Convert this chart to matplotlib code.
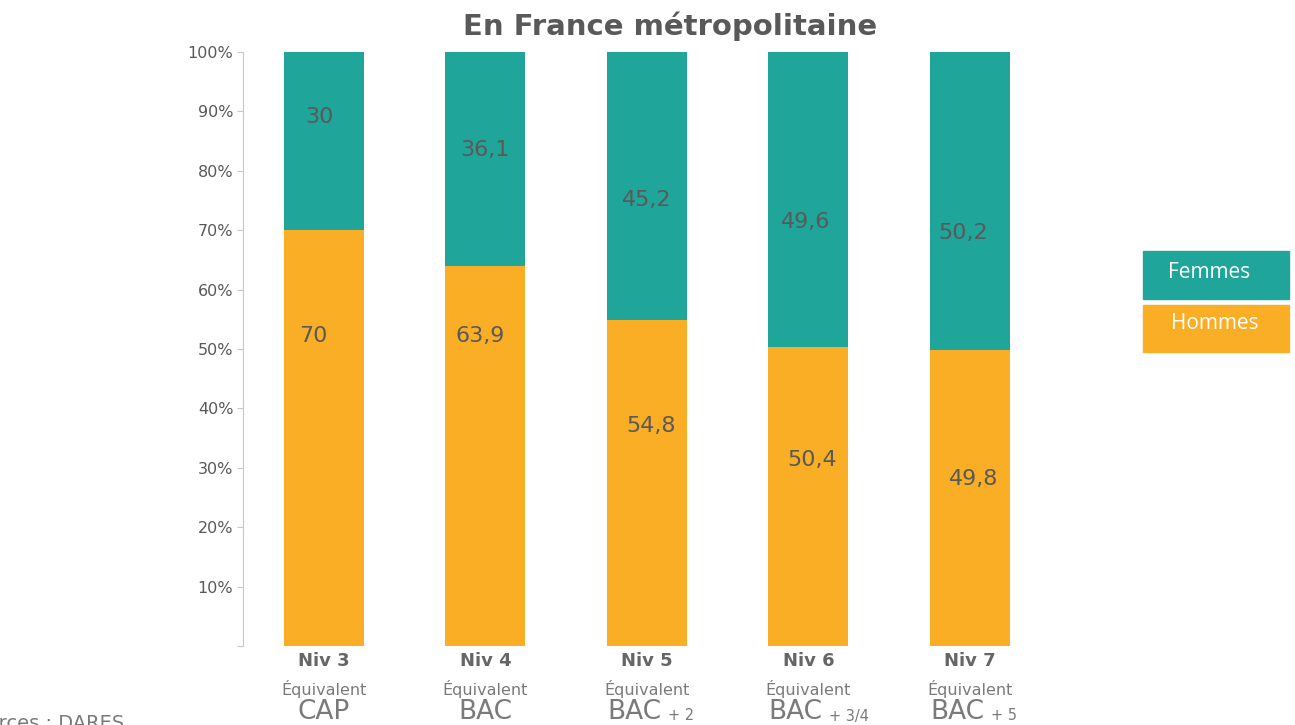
import matplotlib
matplotlib.use("Agg")
import matplotlib.pyplot as plt
from matplotlib.patches import Rectangle

niveaux = ["Niv 3", "Niv 4", "Niv 5", "Niv 6", "Niv 7"]
diplome = ["CAP", "BAC", "BAC", "BAC", "BAC"]
suffixe = ["", "", "+ 2", "+ 3/4", "+ 5"]
hommes = [70, 63.9, 54.8, 50.4, 49.8]
femmes = [30, 36.1, 45.2, 49.6, 50.2]
labels_h = ["70", "63,9", "54,8", "50,4", "49,8"]
labels_f = ["30", "36,1", "45,2", "49,6", "50,2"]
yticks = [10, 20, 30, 40, 50, 60, 70, 80, 90, 100]

# label placement (as drawn in the original, not centred)
pos_h = [52.2, 52.2, 37.0, 31.3, 28.1]
dx_h = [-0.065, -0.03, 0.025, 0.025, 0.02]
pos_f = [89.1, 83.5, 75.1, 71.4, 69.5]
dx_f = [-0.025, 0.0, 0.0, -0.02, -0.043]

teal = "#20A59A"
orange = "#F9AE25"
grey = "#595959"

plt.rcParams["font.family"] = ["DejaVu Sans"]

fig = plt.figure(figsize=(12.95, 7.25), dpi=100)
ax = fig.add_axes([243 / 1295, 79 / 725, (1050.75 - 243) / 1295, 594 / 725])

x = list(range(len(niveaux)))
ax.bar(x, hommes, width=0.495, color=orange)
ax.bar(x, femmes, width=0.495, bottom=hommes, color=teal)

for i in x:
    ax.text(i + dx_h[i], pos_h[i], labels_h[i], ha="center", va="center",
            fontsize=16, color=grey)
    ax.text(i + dx_f[i], pos_f[i], labels_f[i], ha="center", va="center",
            fontsize=16, color=grey)

ax.set_xlim(-0.5, 4.5)
ax.set_ylim(0, 100)
ax.set_yticks([0] + yticks)
ax.set_yticklabels([""] + [f"{t}%" for t in yticks], fontsize=11.5, color=grey)
ax.set_xticks([])
for s in ["top", "right", "bottom"]:
    ax.spines[s].set_visible(False)
ax.spines["left"].set_color("#c8c8c8")
ax.tick_params(axis="y", direction="out", length=4, color="#c8c8c8", pad=3)

# x labels
for i in x:
    ax.annotate(niveaux[i], xy=(i, 0), xycoords=("data", "axes fraction"),
                xytext=(0, -15), textcoords="offset pixels", ha="center", va="center",
                fontsize=13, fontweight="heavy", color="#666666")
    ax.annotate("Équivalent", xy=(i, 0), xycoords=("data", "axes fraction"),
                xytext=(0, -43), textcoords="offset pixels", ha="center", va="center",
                fontsize=11.5, color="#7a7a7a")
    if suffixe[i]:
        ax.annotate(diplome[i], xy=(i, 0), xycoords=("data", "axes fraction"),
                    xytext=(14, -66), textcoords="offset pixels", ha="right", va="center",
                    fontsize=19, color="#7a7a7a")
        ax.annotate(suffixe[i], xy=(i, 0), xycoords=("data", "axes fraction"),
                    xytext=(21, -70), textcoords="offset pixels", ha="left", va="center",
                    fontsize=10.5, color="#7a7a7a")
    else:
        ax.annotate(diplome[i], xy=(i, 0), xycoords=("data", "axes fraction"),
                    xytext=(0, -66), textcoords="offset pixels", ha="center", va="center",
                    fontsize=19, color="#7a7a7a")

fig.text(670 / 1295, 1 - 26 / 725, "En France métropolitaine", ha="center", va="center",
         fontsize=21, fontweight="bold", color=grey)

# legend boxes
fig.patches.append(Rectangle((1143 / 1295, 1 - 299 / 725), 146 / 1295, 48 / 725,
                             transform=fig.transFigure, color=teal))
fig.patches.append(Rectangle((1143 / 1295, 1 - 352 / 725), 146 / 1295, 47 / 725,
                             transform=fig.transFigure, color=orange))
fig.text(1209 / 1295, 1 - 273 / 725, "Femmes", ha="center", va="center",
         fontsize=15, color="white", family="Open Sans")
fig.text(1215 / 1295, 1 - 324 / 725, "Hommes", ha="center", va="center",
         fontsize=15, color="white", family="Open Sans")

fig.text(-38 / 1295, -4 / 725, "Sources : DARES", ha="left", va="baseline",
         fontsize=14, color="#7a7a7a")

fig.savefig("out.png", dpi=100)
